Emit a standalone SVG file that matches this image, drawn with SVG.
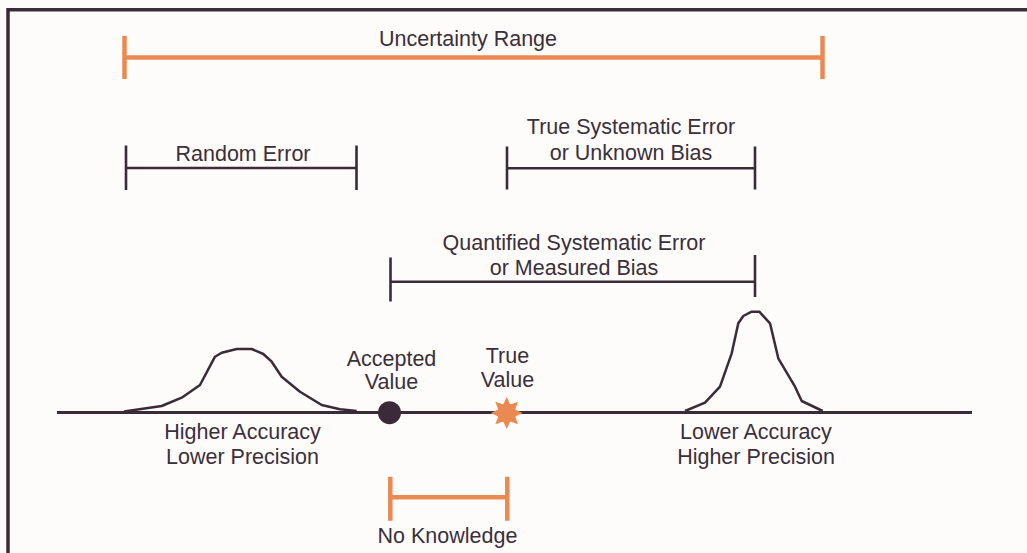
<svg xmlns="http://www.w3.org/2000/svg" width="1027" height="553" viewBox="0 0 1027 553">
<style>
.t{font-family:"Liberation Sans",Arial,sans-serif;font-size:21.5px;fill:#3b2f3b;text-anchor:middle}
.k{stroke:#3b2a38;stroke-width:2.6;fill:none}
.o{stroke:#eb8953;stroke-width:4.5;fill:none}
.c{stroke:#3b2a38;stroke-width:2.5;fill:none;stroke-linejoin:round}
</style>
<rect width="1027" height="553" fill="#fdfcfa"/>
<path d="M8,553 V9.7 H1027" stroke="#3a2d3a" stroke-width="3.5" fill="none"/>
<g id="connectors">
<path id="uncertainty-bracket" class="o" d="M124.5,36 V79 M124.5,57.5 H822.5 M822.5,36 V79" stroke-width="5"/>
<path id="random-bracket" class="k" d="M126,145.5 V190 M126,168 H356.5 M356.5,145.5 V190"/>
<path id="true-sys-bracket" class="k" d="M507,146.5 V189.5 M507,168.3 H755 M755,146.5 V189.5"/>
<path id="quant-bracket" class="k" d="M390.5,257.5 V301.5 M390.5,281.7 H755 M755,255 V297"/>
<path id="no-knowledge-bracket" class="o" d="M390.3,476.7 V520.7 M390.3,497.3 H507.3 M507.3,476.7 V520.7"/>
<path id="baseline" d="M57,412.5 H972" stroke="#3b2a38" stroke-width="3" fill="none"/>
</g>
<g id="uncertainty-range"><text class="t" x="468" y="46">Uncertainty Range</text></g>
<g id="random-error"><text class="t" x="243" y="160.5">Random Error</text></g>
<g id="true-systematic-error"><text class="t" x="631" y="134">True Systematic Error</text><text class="t" x="631" y="159.5">or Unknown Bias</text></g>
<g id="quantified-systematic-error"><text class="t" x="574" y="250">Quantified Systematic Error</text><text class="t" x="574" y="275">or Measured Bias</text></g>
<g id="low-precision-curve">
<path class="c" d="M124,411.5 L161.7,406 L181.7,397.7 L200,385 L215,356.7 L221.7,352.7 L236.7,349 L251.7,349 L263.3,354 L271.7,361.7 L281.7,376.7 L300,391.7 L321.7,405 L340,409.3 L356.7,411"/>
<text class="t" x="242.5" y="439">Higher Accuracy</text><text class="t" x="242.5" y="463.5">Lower Precision</text>
</g>
<g id="high-precision-curve">
<path class="c" d="M685,411 L705,402.7 L720,386.7 L731.7,353.3 L738.3,323.3 L743.3,316 L751.7,311.7 L759.3,311.7 L770,323.3 L778.3,358.3 L795,386.7 L801.7,401 L822.7,411"/>
<text class="t" x="756" y="439">Lower Accuracy</text><text class="t" x="756" y="464">Higher Precision</text>
</g>
<g id="accepted-value">
<text class="t" x="391.5" y="366">Accepted</text><text class="t" x="391.5" y="388.5">Value</text>
<circle cx="389.5" cy="412.7" r="11.5" fill="#3b2a38"/>
</g>
<g id="true-value">
<text class="t" x="507.5" y="363">True</text><text class="t" x="507.5" y="386.5">Value</text>
<g transform="translate(506.7,413)" fill="#eb8953">
<circle r="9.5"/>
<g id="spike"><polygon points="0,-16 -3.5,-8.5 3.5,-8.5"/></g>
<use href="#spike" transform="rotate(45)"/>
<use href="#spike" transform="rotate(90)"/>
<use href="#spike" transform="rotate(135)"/>
<use href="#spike" transform="rotate(180)"/>
<use href="#spike" transform="rotate(225)"/>
<use href="#spike" transform="rotate(270)"/>
<use href="#spike" transform="rotate(315)"/>
</g>
</g>
<g id="no-knowledge"><text class="t" x="447.5" y="543.3">No Knowledge</text></g>
</svg>
